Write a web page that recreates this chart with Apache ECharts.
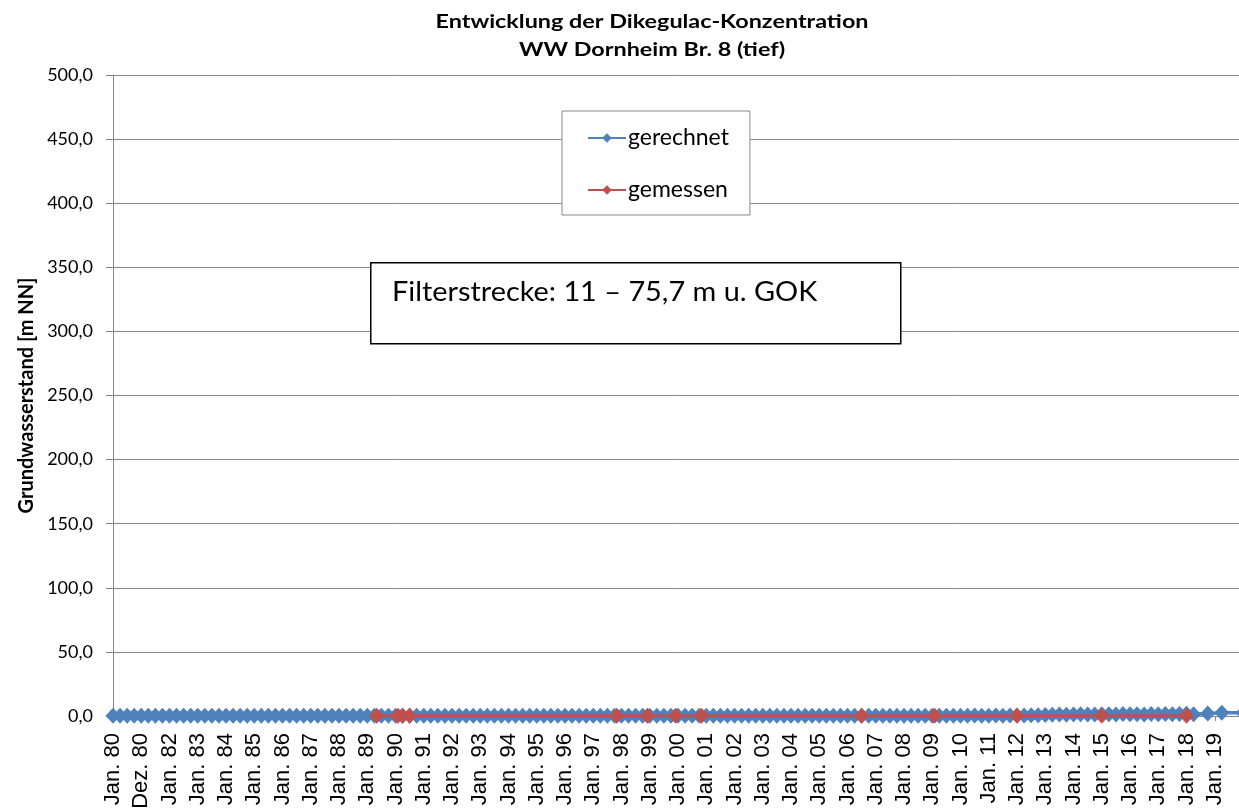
<!DOCTYPE html>
<html>
<head>
<meta charset="utf-8">
<script src="https://cdn.jsdelivr.net/npm/echarts@6/dist/echarts.min.js"></script>
<style>
  html, body { margin: 0; padding: 0; background: #fff; }
  #chart { width: 1239px; height: 809px; }
</style>
</head>
<body>
<div id="chart"></div>
<script>
    // x axis runs in months since Jan. 80, one label every 12 months
    const tickLabels = ['Jan. 80', 'Dez. 80', 'Jan. 82', 'Jan. 83', 'Jan. 84', 'Jan. 85', 'Jan. 86', 'Jan. 87', 'Jan. 88', 'Jan. 89',
        'Jan. 90', 'Jan. 91', 'Jan. 92', 'Jan. 93', 'Jan. 94', 'Jan. 95', 'Jan. 96', 'Jan. 97', 'Jan. 98', 'Jan. 99',
        'Jan. 00', 'Jan. 01', 'Jan. 02', 'Jan. 03', 'Jan. 04', 'Jan. 05', 'Jan. 06', 'Jan. 07', 'Jan. 08', 'Jan. 09',
        'Jan. 10', 'Jan. 11', 'Jan. 12', 'Jan. 13', 'Jan. 14', 'Jan. 15', 'Jan. 16', 'Jan. 17', 'Jan. 18', 'Jan. 19']

    // gerechnet: one value per quarter (every 3 months), null = no value
    const gerechnetValues = [
        0.1, 0.1, 0.2, 0.1, 0.1, 0.1, 0.2, 0.1, 0.1, 0.1, 0.1, 0.2, 0.1, 0.1, 0.1, 0.1,
        0.2, 0.1, 0.1, 0.1, 0.1, 0.1, 0.2, 0.1, 0.1, 0.1, 0.1, 0.1, 0.2, 0.1, 0.1, 0.1,
        0.1, 0.2, 0.1, 0.1, 0.1, 0.1, 0.1, 0.2, 0.1, 0.1, 0.1, 0.1, 0.2, 0.1, 0.1, 0.1,
        0.1, 0.1, 0.2, 0.1, 0.1, 0.1, 0.1, 0.1, 0.2, 0.1, 0.1, 0.1, 0.1, 0.2, 0.1, 0.1,
        0.1, 0.1, 0.1, 0.2, 0.1, 0.1, 0.1, 0.1, 0.2, 0.1, 0.1, 0.1, 0.1, 0.1, 0.2, 0.1,
        0.1, 0.1, 0.2, 0.1, 0.1, 0.1, 0.1, 0.2, 0.1, 0.1, 0.1, 0.2, 0.1, 0.1, 0.2, 0.1,
        0.1, 0.2, 0.1, 0.1, 0.2, 0.1, 0.1, 0.2, 0.1, 0.2, 0.1, 0.1, 0.2, 0.1, 0.2, 0.1,
        0.2, 0.1, 0.2, 0.2, 0.1, 0.2, 0.2, 0.1, 0.2, 0.2, 0.3, 0.2, 0.2, 0.3, 0.2, 0.3,
        0.3, 0.4, 0.5, 0.6, 0.8, 1.0, 1.1, 1.0, 1.2, 1.3, 1.1, 1.2, 1.4, 1.3, 1.2, 1.5,
        1.3, 1.4, 1.2, 1.6, 1.4, 1.5, 1.3, 1.5, 1.7, 1.4, null, 2.0, null, 2.5, null, null,
        2.6]

    // gemessen: measuring dates (months since Jan. 80) and values
    const gemessenMonths = [112, 121, 123, 126, 214, 227, 239, 250, 318, 349, 384, 420, 456]
    const gemessenValues = [0.1, 0.1, 0.1, 0.1, 0.1, 0.1, 0.1, 0.1, 0.1, 0.1, 0.1, 0.1, 0.1]

    const blue = '#4F81BD'
    const red = '#C0504D'
    const grey = '#868686'
    const calibri = 'Lato'

    const chart = echarts.init(document.getElementById('chart'))

    chart.setOption({
        animation: false,
        backgroundColor: '#fff',
        grid: {
            left: 113,
            top: 75,
            bottom: 93,
            right: -4,
            containLabel: false,
            outerBoundsMode: 'none'
        },
        legend: {
            orient: 'vertical',
            left: 562,
            top: 111,
            padding: [15, 21, 13, 25],
            itemWidth: 38,
            itemHeight: 12,
            itemGap: 28,
            borderColor: grey,
            borderWidth: 1,
            backgroundColor: '#fff',
            textStyle: {
                fontFamily: calibri,
                fontSize: 23,
                lineHeight: 24,
                color: '#000',
                padding: [0, 0, 0, -3]
            },
            data: ['gerechnet', 'gemessen']
        },
        xAxis: {
            type: 'value',
            min: 0,
            max: 480,
            interval: 12,
            axisLine: {
                onZero: false,
                lineStyle: {color: grey}
            },
            axisTick: {
                show: true,
                length: 5,
                lineStyle: {color: grey}
            },
            splitLine: {show: false},
            axisLabel: {
                rotate: 90,
                margin: 17,
                fontFamily: 'Liberation Sans',
                fontSize: 22,
                color: '#000',
                showMaxLabel: false,
                formatter: v => tickLabels[Math.round(v / 12)] || ''
            }
        },
        yAxis: {
            type: 'value',
            min: 0,
            max: 500,
            interval: 50,
            name: 'Grundwasserstand [m NN]',
            nameLocation: 'middle',
            nameGap: 74,
            nameTextStyle: {
                fontFamily: calibri,
                fontSize: 20,
                fontWeight: 'bold',
                color: '#000'
            },
            axisLine: {
                show: true,
                lineStyle: {color: grey}
            },
            axisTick: {
                show: true,
                length: 7,
                lineStyle: {color: grey}
            },
            splitLine: {
                lineStyle: {color: grey, width: 1}
            },
            axisLabel: {
                margin: 20,
                fontFamily: calibri,
                fontSize: 18,
                color: '#000',
                formatter: v => v.toFixed(1).replace('.', ',')
            }
        },
        series: [
            {
                name: 'gerechnet',
                type: 'line',
                data: gerechnetValues.map((v, i) => [i * 3, v]),
                connectNulls: true,
                symbol: 'diamond',
                symbolSize: [15, 16],
                showAllSymbol: true,
                itemStyle: {color: blue},
                lineStyle: {color: blue, width: 3.5},
                z: 2
            },
            {
                name: 'gemessen',
                type: 'line',
                data: gemessenMonths.map((m, i) => [m, gemessenValues[i]]),
                connectNulls: true,
                symbol: 'diamond',
                symbolSize: [15, 16],
                showAllSymbol: true,
                itemStyle: {color: red},
                lineStyle: {color: red, width: 3},
                z: 3
            }
        ],
        graphic: [
            {
                type: 'text',
                x: 652,
                y: 8,
                scaleX: 1.23,
                style: {
                    text: 'Entwicklung der Dikegulac-Konzentration\nWW Dornheim Br. 8 (tief)',
                    align: 'center',
                    verticalAlign: 'top',
                    fontFamily: calibri,
                    fontSize: 19,
                    fontWeight: 'bold',
                    lineHeight: 28,
                    fill: '#000'
                }
            },
            {
                type: 'rect',
                left: 370,
                top: 262,
                shape: {width: 530, height: 81},
                style: {fill: '#fff', stroke: '#000', lineWidth: 1.5},
                z: 10
            },
            {
                type: 'text',
                x: 392,
                y: 280,
                scaleX: 1.11,
                style: {
                    text: 'Filterstrecke: 11 – 75,7 m u. GOK',
                    verticalAlign: 'top',
                    fontFamily: calibri,
                    fontSize: 26,
                    fill: '#000'
                },
                z: 11
            }
        ]
    })
</script>
</body>
</html>
